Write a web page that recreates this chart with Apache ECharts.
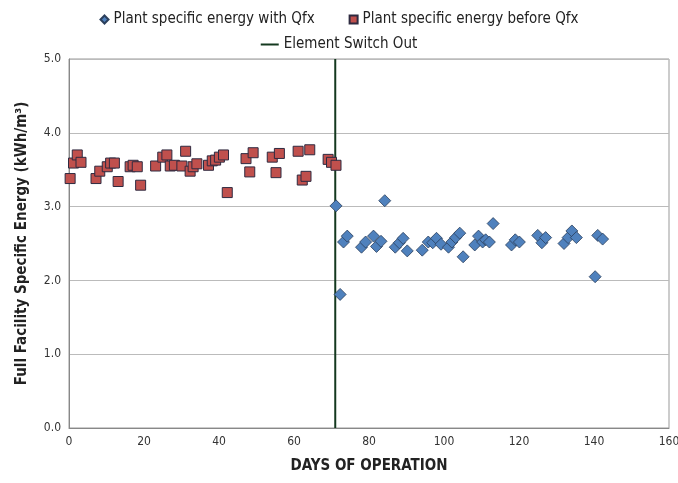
<!DOCTYPE html>
<html><head><meta charset="utf-8">
<script src="https://cdn.jsdelivr.net/npm/echarts@6/dist/echarts.min.js"></script>
<style>html,body{margin:0;padding:0;background:#fff}#c{width:678px;height:483px}</style>
</head><body><div id="c"></div>
<script>
const beforeDays = [0.3,1.2,2.2,3.2,7.2,8.2,10.2,11.1,12.1,13.1,16.3,17.1,18.2,19.1,23.1,25,26.1,27,28.1,30.1,31.1,32.3,33.1,34.1,37.2,38.2,39.1,40.1,41.2,42.2,47.2,48.2,49.1,54.2,55.2,56.1,61.1,62.2,63.2,64.2,69.1,70.0,71.2];
const beforeVals = [3.38,3.59,3.70,3.60,3.38,3.48,3.54,3.59,3.59,3.34,3.54,3.56,3.54,3.29,3.55,3.67,3.70,3.55,3.56,3.55,3.75,3.48,3.54,3.58,3.56,3.62,3.63,3.67,3.70,3.19,3.65,3.47,3.73,3.67,3.46,3.72,3.75,3.36,3.41,3.77,3.64,3.60,3.56];
const withDays = [71.2,72.3,73.2,74.2,78.0,79.1,81.2,82.0,83.2,84.2,87.0,88.1,89.1,90.2,94.2,95.8,97.0,98.0,99.2,101.2,102.1,103.1,104.2,105.1,108.2,109.2,110.3,111.1,112.1,113.1,118.0,119.0,120.1,125.0,126.1,127.1,132.0,133.1,134.1,135.3,140.3,141.0,142.3];
const withVals = [3.01,1.81,2.52,2.60,2.45,2.52,2.60,2.46,2.53,3.08,2.45,2.51,2.57,2.40,2.41,2.52,2.51,2.57,2.49,2.45,2.52,2.58,2.64,2.32,2.48,2.60,2.52,2.55,2.52,2.77,2.48,2.55,2.52,2.61,2.51,2.58,2.50,2.58,2.67,2.58,2.05,2.61,2.56];
const switchDay = 71;
const xTicks = [0,20,40,60,80,100,120,140,160];
const yTicks = [0,1,2,3,4,5];

const font = '"DejaVu Sans Condensed","Liberation Sans Narrow",sans-serif';
const chart = echarts.init(document.getElementById('c'), null, {renderer:'canvas'});
chart.setOption({
  animation:false,
  backgroundColor:'#fff',
  textStyle:{fontFamily:font},
  legend:[{
    top:7, left:'center', itemGap:34, itemWidth:8, itemHeight:8,
    textStyle:{fontFamily:font, fontSize:15, color:'#222'},
    data:[{name:'Plant specific energy with Qfx', icon:'diamond'},{name:'Plant specific energy before Qfx', icon:'rect'}]
  },{
    top:32, left:'center', itemWidth:18, itemHeight:2,
    textStyle:{fontFamily:font, fontSize:15, color:'#222'},
    data:[{name:'Element Switch Out', icon:'rect'}]
  }],
  grid:{left:69, right:9, top:59, bottom:55, outerBoundsMode:'none', containLabel:false, show:true, borderColor:'#999', borderWidth:1},
  xAxis:{
    type:'value', min:xTicks[0], max:xTicks[xTicks.length-1], interval:20,
    name:'DAYS OF OPERATION', nameLocation:'middle', nameGap:31,
    nameTextStyle:{fontFamily:font, fontSize:15, fontWeight:'bold', color:'#222'},
    axisLine:{lineStyle:{color:'#888'}}, axisTick:{show:false},
    axisLabel:{fontFamily:font, fontSize:12, color:'#333', margin:8},
    splitLine:{show:false}
  },
  yAxis:{
    type:'value', min:yTicks[0], max:yTicks[yTicks.length-1], interval:1,
    name:'Full Facility Specific Energy (kWh/m³)', nameLocation:'middle', nameGap:39,
    nameTextStyle:{fontFamily:font, fontSize:15, fontWeight:'bold', color:'#222'},
    axisLine:{show:true, lineStyle:{color:'#888'}}, axisTick:{show:false},
    axisLabel:{fontFamily:font, fontSize:12, color:'#333', formatter:v=>v.toFixed(1), margin:8},
    splitLine:{lineStyle:{color:'#bbb'}}
  },
  series:[
    {name:'Plant specific energy with Qfx', type:'scatter', symbol:'diamond', symbolSize:12, z:3,
     itemStyle:{color:'#4F81BD', borderColor:'#2b3f5c', borderWidth:0.8, opacity:1},
     data:withDays.map((d,i)=>[d,withVals[i]])},
    {name:'Plant specific energy before Qfx', type:'scatter', symbol:'rect', symbolSize:10, z:3,
     itemStyle:{color:'#C0504D', borderColor:'#2e2a40', borderWidth:1, opacity:1},
     data:beforeDays.map((d,i)=>[d,beforeVals[i]])},
    {name:'Element Switch Out', type:'line', symbol:'none', z:2,
     lineStyle:{color:'#14391f', width:2}, itemStyle:{color:'#14391f'},
     data:[[switchDay,yTicks[0]],[switchDay,yTicks[yTicks.length-1]]]}
  ]
});
</script></body></html>
